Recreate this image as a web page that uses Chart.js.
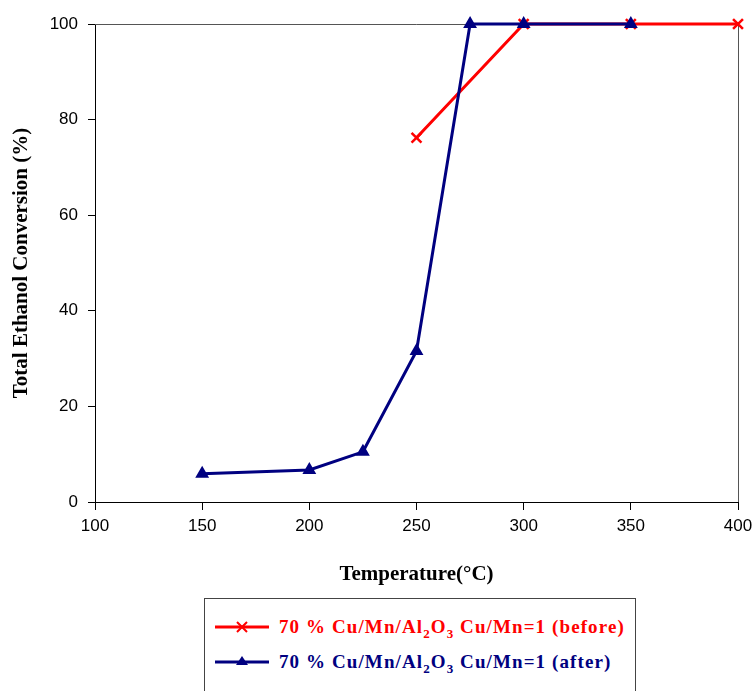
<!DOCTYPE html>
<html>
<head>
<meta charset="utf-8">
<script src="https://cdn.jsdelivr.net/npm/chart.js@4/dist/chart.umd.min.js"></script>
<style>
  body { margin: 0; background: #fff; }
  #wrap { position: relative; width: 753px; height: 691px; }
  #legend {
    position: absolute; left: 204px; top: 598px; width: 432px; height: 100px;
    border: 1px solid #444; box-sizing: border-box; background: #fff;
    font-family: 'Liberation Serif', 'Times New Roman', serif; font-weight: bold; font-size: 19px;
  }
  .row { position: absolute; left: 10px; height: 20px; display: flex; align-items: center; letter-spacing: 1.1px; white-space: nowrap; }
  .row svg { margin-right: 10px; }
  sub { font-size: 13px; vertical-align: -5px; line-height: 0; }
</style>
</head>
<body>
<div id="wrap">
  <canvas id="c" width="753" height="691"></canvas>
  <div id="legend">
    <div class="row" style="top:18px;color:#ff0000">
      <svg width="54" height="12"><line x1="0" y1="6" x2="54" y2="6" stroke="#ff0000" stroke-width="3"/><path d="M22 1 L32 11 M32 1 L22 11" stroke="#ff0000" stroke-width="2"/></svg>
      <span>70 % Cu/Mn/Al<sub>2</sub>O<sub>3</sub> Cu/Mn=1 (before)</span>
    </div>
    <div class="row" style="top:53px;color:#000080">
      <svg width="54" height="12"><line x1="0" y1="6" x2="54" y2="6" stroke="#000080" stroke-width="3"/><path d="M27 0 L33 9 L21 9 Z" fill="#000080"/></svg>
      <span>70 % Cu/Mn/Al<sub>2</sub>O<sub>3</sub> Cu/Mn=1 (after)</span>
    </div>
  </div>
</div>
<script>
// Temperatures (°C) and total ethanol conversion (%)
const beforeTemps = [250, 300, 350, 400];
const beforeConv = [76.2, 100, 100, 100];
const afterTemps = [150, 200, 225, 250, 275, 300, 350];
const afterConv = [5.9, 6.7, 10.5, 31.6, 100, 100, 100];

const xTicks = [100, 150, 200, 250, 300, 350, 400];
const yTicks = [0, 20, 40, 60, 80, 100];

const labelFont = { family: "'Liberation Sans', Arial, sans-serif", size: 17 };
const titleFont = { family: "'Liberation Serif', 'Times New Roman', serif", size: 21, weight: 'bold' };

// draws the top and right edges of the plot box
const frame = {
  id: 'frame',
  beforeDatasetsDraw(chart) {
    const { ctx, chartArea: a } = chart;
    ctx.save();
    ctx.strokeStyle = '#555';
    ctx.lineWidth = 1;
    ctx.beginPath();
    ctx.moveTo(a.left, a.top + 0.5);
    ctx.lineTo(a.right + 0.5, a.top + 0.5);
    ctx.lineTo(a.right + 0.5, a.bottom);
    ctx.stroke();
    ctx.restore();
  }
};

new Chart(document.getElementById('c'), {
  type: 'line',
  data: {
    datasets: [
      {
        label: '70 % Cu/Mn/Al2O3 Cu/Mn=1 (before)',
        data: beforeTemps.map((t, i) => ({ x: t, y: beforeConv[i] })),
        borderColor: '#ff0000',
        backgroundColor: '#ff0000',
        borderWidth: 3,
        pointStyle: 'crossRot',
        pointRadius: 7,
        pointBorderWidth: 2.5,
        clip: false,
        order: 1,
        tension: 0
      },
      {
        label: '70 % Cu/Mn/Al2O3 Cu/Mn=1 (after)',
        data: afterTemps.map((t, i) => ({ x: t, y: afterConv[i] })),
        borderColor: '#000080',
        backgroundColor: '#000080',
        borderWidth: 3,
        pointStyle: 'triangle',
        pointRadius: 5,
        clip: false,
        order: 0,
        tension: 0
      }
    ]
  },
  options: {
    responsive: false,
    animation: false,
    layout: { padding: { left: 0, right: 15, top: 24, bottom: 101 } },
    plugins: { legend: { display: false }, tooltip: { enabled: false } },
    scales: {
      x: {
        type: 'linear',
        min: 100, max: 400,
        afterBuildTicks: s => { s.ticks = xTicks.map(v => ({ value: v })); },
        afterFit: s => { s.height = 88; s.paddingLeft = 0; s.paddingRight = 0; },
        grid: { drawOnChartArea: false, tickLength: 8, color: '#000' },
        border: { color: '#000' },
        ticks: { color: '#000', font: labelFont, padding: 6, maxRotation: 0 },
        title: { display: true, text: 'Temperature(°C)', color: '#000', font: titleFont, padding: { bottom: 3 } }
      },
      y: {
        min: 0, max: 100,
        afterBuildTicks: s => { s.ticks = yTicks.map(v => ({ value: v })); },
        afterFit: s => { s.width = 95; s.paddingTop = 0; s.paddingBottom = 0; },
        grid: { drawOnChartArea: false, tickLength: 7, color: '#000' },
        border: { color: '#000' },
        ticks: { color: '#000', font: labelFont, padding: 10 },
        title: { display: true, text: 'Total Ethanol Conversion (%)', color: '#000', font: titleFont, padding: { top: 9 } }
      }
    }
  },
  plugins: [frame]
});
</script>
</body>
</html>
